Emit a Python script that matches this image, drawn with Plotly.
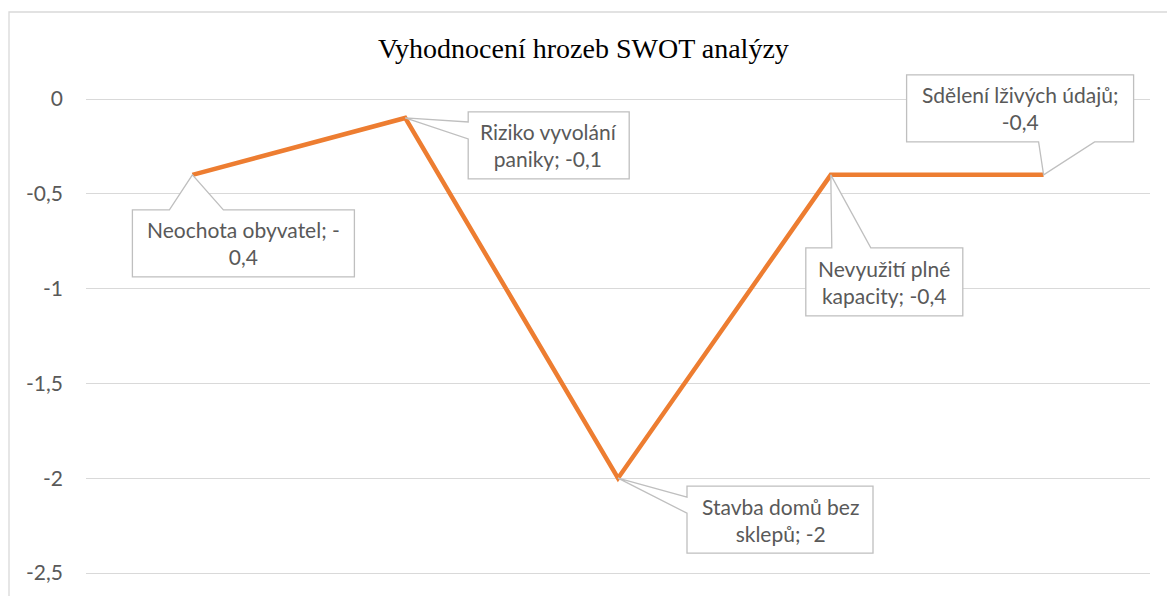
import plotly.graph_objects as go

title = "Vyhodnocení hrozeb SWOT analýzy"
categories = ["Neochota obyvatel", "Riziko vyvolání paniky", "Stavba domů bez sklepů",
              "Nevyužití plné kapacity", "Sdělení lživých údajů"]
values = [-0.4, -0.1, -2.0, -0.4, -0.4]
label_lines = [
    ["Neochota obyvatel; -", "0,4"],
    ["Riziko vyvolání", "paniky; -0,1"],
    ["Stavba domů bez", "sklepů; -2"],
    ["Nevyužití plné", "kapacity; -0,4"],
    ["Sdělení lživých údajů;", "-0,4"],
]
y_tickvals = [0, -0.5, -1, -1.5, -2, -2.5]
y_ticktext = ["0", "-0,5", "-1", "-1,5", "-2", "-2,5"]

W, H = 1167, 596
L, R, T, B = 86, 17, 12, 0
plot_w = W - L - R
plot_h = H - T - B
px_per_y = 189.6
zero_px = 99
y_top = (zero_px - T) / px_per_y
y_bottom = y_top - plot_h / px_per_y
x_range = [-0.5, len(categories) - 0.5]
px_per_x = plot_w / (x_range[1] - x_range[0])

# callout geometry in pixel offsets from the data point (layout only)
callouts = [
    (-60, 162, 35, 102, "top", -23, 31),
    (63, 224, -6, 61, "left", 4, 21),
    (69, 255, 8, 75, "left", 19, 35),
    (-25, 132, 73, 141, "top", 1, 40),
    (-137, 90, -100, -33, "bottom", -5, 51),
]

def to_data(i, v, dx, dy):
    return i + dx / px_per_x, v - dy / px_per_y

FONT = "Lato, Calibri, sans-serif"
FS = 21

fig = go.Figure()
fig.add_trace(go.Scatter(
    x=list(range(len(categories))), y=values, mode="lines",
    line=dict(color="#ED7D31", width=4.5), hoverinfo="skip",
    cliponaxis=False, showlegend=False))

shapes = []
annotations = []
for i, (v, lines, c) in enumerate(zip(values, label_lines, callouts)):
    x0, x1, y0, y1, side, a, b = c
    if side == "top":
        pts = [(x0, y0), (a, y0), (0, 0), (b, y0), (x1, y0), (x1, y1), (x0, y1)]
    elif side == "bottom":
        pts = [(x0, y0), (x1, y0), (x1, y1), (b, y1), (0, 0), (a, y1), (x0, y1)]
    else:  # left
        pts = [(x0, y0), (x1, y0), (x1, y1), (x0, y1), (x0, b), (0, 0), (x0, a)]
    dpts = [to_data(i, v, dx, dy) for dx, dy in pts]
    path = "M " + " L ".join(f"{px},{py}" for px, py in dpts) + " Z"
    shapes.append(dict(type="path", path=path, xref="x", yref="y",
                       fillcolor="white", line=dict(color="#BFBFBF", width=1.3),
                       layer="above"))
    cx, cy = to_data(i, v, (x0 + x1) / 2, (y0 + y1) / 2)
    annotations.append(dict(x=cx, y=cy, xref="x", yref="y", text="<br>".join(lines),
                            showarrow=False, align="center",
                            font=dict(family=FONT, size=FS, color="#595959")))

# outer chart border
shapes.append(dict(type="rect", xref="paper", yref="paper",
                   x0=(9 - L) / plot_w, x1=(W + 20 - L) / plot_w,
                   y0=-0.1, y1=1.0,
                   line=dict(color="#D9D9D9", width=1.3), fillcolor="rgba(0,0,0,0)", layer="below"))

annotations.append(dict(text=title, x=(583 - L) / plot_w, y=(H - 49 - B) / plot_h,
                        xref="paper", yref="paper", showarrow=False, xanchor="center", yanchor="middle",
                        font=dict(family="Liberation Serif, Times New Roman, serif", size=28, color="#000000")))

fig.update_layout(
    width=W, height=H, margin=dict(l=L, r=R, t=T, b=B, autoexpand=False),
    paper_bgcolor="white", plot_bgcolor="white",
    shapes=shapes, annotations=annotations, showlegend=False,
    xaxis=dict(range=x_range, showgrid=False, zeroline=False, showticklabels=False,
               showline=False, ticks="", automargin=False, fixedrange=True),
    yaxis=dict(range=[y_bottom, y_top], tickvals=y_tickvals, ticktext=y_ticktext,
               showgrid=True, gridcolor="#D9D9D9", gridwidth=1.3, zeroline=False,
               showline=False, ticks="", ticklabelstandoff=22, automargin=False,
               fixedrange=True,
               tickfont=dict(family=FONT, size=FS, color="#595959")),
)

fig.write_html("out.html", config={"displayModeBar": False},
               post_script="document.body.style.margin='0';document.body.style.overflow='hidden';")
